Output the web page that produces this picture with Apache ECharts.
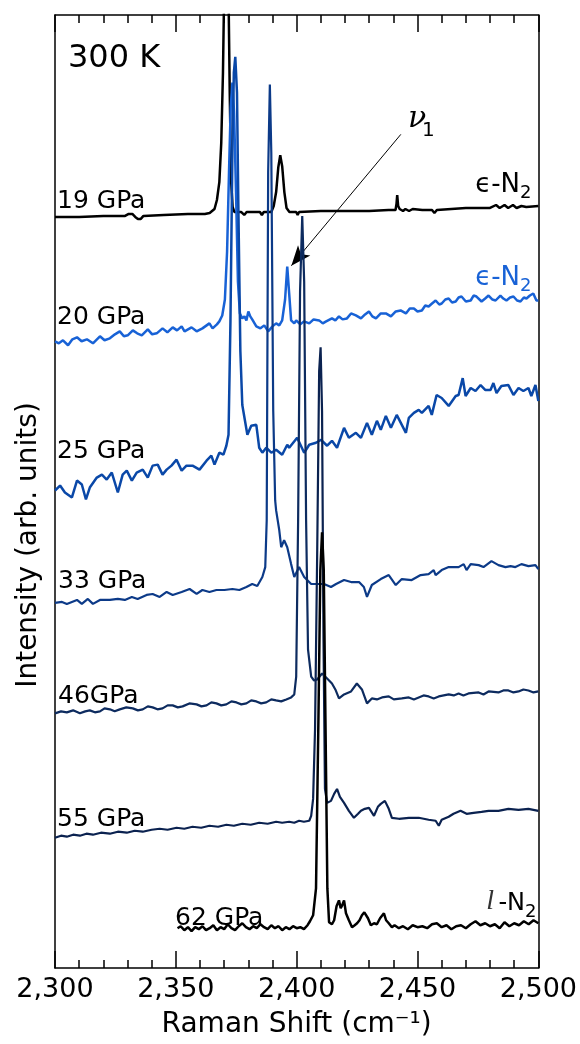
<!DOCTYPE html>
<html>
<head>
<meta charset="utf-8">
<script src="https://cdn.jsdelivr.net/npm/echarts@6/dist/echarts.min.js"></script>
<style>
  html, body { margin: 0; padding: 0; background: #fff; }
  #chart { width: 580px; height: 1044px; }
</style>
</head>
<body>
<div id="chart"></div>
<script>
// Raman spectra, stacked with offsets (x = cm-1, y = arb. offset intensity)
const p19 = [[2300,755],[2310,755],[2320,756],[2329,756],[2330.5,758],[2332,758],[2333.2,755],[2334.3,753],[2335.5,753],[2336.6,756],[2345,757],[2355,758],[2362,758],[2364,759],[2366,763],[2367,772],[2368,790],[2368.8,830],[2369.5,900],[2370.1,1000],[2370.9,1150],[2371.7,1000],[2372.3,880],[2372.9,790],[2373.5,765],[2374.2,760],[2377,760],[2378.3,757],[2379.3,760],[2384.8,760],[2385.6,757],[2386.4,760],[2389.5,760],[2390.5,766],[2391.5,780],[2392.4,805],[2393.2,817],[2394,806],[2394.9,780],[2395.8,764],[2397,760],[2399.8,760],[2400.4,757],[2401,760],[2410,761],[2420,761],[2430,761],[2438,762],[2440.9,762],[2441.3,768],[2441.6,777],[2442,766],[2442.6,763],[2443.4,763],[2444,761],[2445,763],[2446.5,761],[2448,763],[2452,762],[2456,762],[2457,759],[2458,762],[2470,764],[2480,764],[2482.5,767],[2484,764],[2486,767],[2487.5,764],[2489.5,767],[2491,764],[2493,766],[2495,765],[2500,766]];

const p20 = [[2300,630],[2301.6,628],[2303.3,631],[2305.4,626],[2307.2,632],[2309.1,634],[2311,630],[2313.2,632],[2315.7,628],[2318.6,635],[2320.5,631],[2322.7,633],[2324.8,637],[2326.8,640],[2328.5,635],[2330.1,636],[2332.2,641],[2334,638],[2335.9,636],[2338.4,642],[2340.2,637],[2342.1,638],[2344.5,643],[2346.5,639],[2348.7,644],[2350.5,641],[2352.4,645],[2353.6,640],[2356.5,644],[2358.6,640],[2361,643],[2363.9,648],[2365.2,643],[2367,647],[2368,650],[2369.2,656],[2370.3,672],[2371.2,720],[2372,800],[2372.7,865],[2373.4,890],[2374.1,860],[2374.9,780],[2375.7,690],[2376.5,658],[2377.5,653],[2378.4,655],[2379.2,651],[2380,660],[2380.8,655],[2381.6,652],[2383.3,645],[2385,643],[2386.6,646],[2388.2,640],[2390,645],[2391.5,648],[2392.8,646],[2394,651],[2395.2,672],[2396.1,705],[2396.9,678],[2397.7,651],[2399,648],[2399.8,651],[2401.5,647],[2403,650],[2405.2,648],[2407,652],[2409.3,651],[2410.8,648],[2412.2,650],[2414.6,653],[2416,651],[2417.5,655],[2419,652],[2420.8,653],[2422.5,658],[2424.5,656],[2426.6,653],[2428.3,657],[2429.9,660],[2431.3,655],[2432.8,653],[2434.8,658],[2436.9,658],[2439,655],[2441,660],[2443,661],[2445.2,658],[2446.8,663],[2448.5,663],[2450,660],[2451.8,661],[2453.2,666],[2454.6,665],[2456,668],[2457.5,671],[2459,667],[2460,668],[2461.5,672],[2462.9,673],[2464.3,669],[2465.8,670],[2467,674],[2468.2,675],[2470,670],[2472,671],[2473.2,676],[2474.4,675],[2476.5,670],[2478,673],[2479.4,676],[2481,672],[2482.3,671],[2484.3,676],[2485.5,673],[2486.8,671],[2488.3,674],[2489.7,675],[2491.2,671],[2492.6,670],[2494,674],[2495.1,673],[2496.5,676],[2497.9,678],[2499.2,671],[2500,671]];

const p25 = [[2300,480],[2302.1,485],[2304.1,478],[2307,473],[2309.1,490],[2311.1,486],[2312.8,471],[2314.4,483],[2317.3,493],[2319.4,496],[2321.4,491],[2323.5,498],[2326,478],[2328,496],[2329.7,500],[2331.8,490],[2333.8,498],[2336.3,501],[2338.4,493],[2340.4,505],[2342.5,506],[2344.5,496],[2346.2,501],[2348.2,505],[2350.3,511],[2352.4,500],[2354.4,505],[2356.9,505],[2359.8,501],[2362.7,510],[2364.7,515],[2366,506],[2368,518],[2369.7,516],[2370.9,525],[2371.8,536],[2372.6,650],[2373.4,820],[2374,900],[2374.6,916],[2375.3,880],[2375.9,760],[2376.7,620],[2377.5,566],[2379.6,536],[2381.2,545],[2383.3,546],[2384.5,523],[2385.8,518],[2387.4,523],[2389.5,518],[2391.5,521],[2394,516],[2396.1,526],[2396.9,523],[2400.2,533],[2403.1,518],[2405.2,526],[2408,528],[2410.1,531],[2412.6,525],[2414.6,530],[2416.7,523],[2419.6,543],[2421.6,533],[2424.5,538],[2426.6,533],[2429.1,548],[2431.1,536],[2433.2,550],[2434.8,541],[2436.9,555],[2439,543],[2441.4,556],[2445.2,538],[2446.4,553],[2448.5,558],[2450.5,561],[2451.8,558],[2454.6,565],[2455.9,556],[2457.9,576],[2460,573],[2462.9,565],[2465.8,575],[2467,576],[2468.7,593],[2469.9,575],[2472,583],[2474,580],[2476.1,586],[2478.1,581],[2480.2,581],[2481.4,588],[2482.7,578],[2484.7,585],[2487.6,586],[2489.7,576],[2491.8,583],[2493.8,580],[2495.9,583],[2497.1,575],[2498.8,586],[2500,570]];

const p33 = [[2300,367],[2302.9,368],[2304.9,366],[2307,368],[2309.1,370],[2311.1,366],[2313.6,371],[2315.7,366],[2318.6,370],[2322.7,370],[2326,371],[2328.9,370],[2331.8,373],[2334.2,371],[2337.9,375],[2340.4,376],[2343.3,373],[2346.2,378],[2348.7,375],[2352.4,378],[2355.7,381],[2358.6,376],[2361,380],[2363.9,378],[2366.8,380],[2370.1,380],[2373.4,381],[2376.3,380],[2379.2,383],[2381.6,386],[2383.7,384],[2385.8,393],[2387,403],[2387.6,450],[2388.2,800],[2388.9,888],[2389.5,820],[2390.3,560],[2391.1,470],[2391.5,460],[2392.8,440],[2393.6,423],[2394.8,430],[2396.1,423],[2397.7,406],[2399,393],[2401,403],[2403.1,393],[2406,386],[2408.5,386],[2411.3,386],[2414.2,383],[2416.3,386],[2419.6,390],[2422.5,388],[2425.8,388],[2427.8,383],[2429.1,373],[2431.1,385],[2434.8,391],[2438.1,395],[2441,385],[2443.5,391],[2447.6,390],[2451.3,395],[2454.6,396],[2456.7,400],[2457.5,395],[2460,400],[2462.9,403],[2467,403],[2469.1,406],[2470.3,400],[2472,406],[2475.3,405],[2477.3,403],[2480.6,409],[2483.5,405],[2486.4,403],[2488.5,404],[2490.5,403],[2493,406],[2495.9,404],[2498.8,405],[2500,401]];

const p46 = [[2300,256],[2302.5,258],[2304.9,257],[2307.5,259],[2310.3,256],[2312.5,258],[2314.4,259],[2316.5,257],[2318.6,258],[2320.5,261],[2322.7,260],[2324.7,258],[2326.8,260],[2329.5,262],[2332.2,261],[2334.3,259],[2336.3,260],[2338.4,263],[2340.4,262],[2342.4,260],[2344.5,261],[2346.6,264],[2348.7,264],[2350.8,262],[2352.8,263],[2355.6,266],[2358.6,265],[2360.6,263],[2362.7,264],[2364.7,267],[2366.8,266],[2368.8,264],[2370.9,265],[2373,268],[2375.1,267],[2377.1,265],[2379.2,266],[2381.2,269],[2383.3,268],[2385.3,266],[2387.4,267],[2389.5,270],[2391.5,269],[2393.6,268],[2395.7,270],[2397.7,272],[2399,275],[2399.8,293],[2400.6,450],[2401.4,680],[2402.3,756],[2403.1,690],[2403.9,450],[2404.7,320],[2406,293],[2407.2,289],[2408.5,290],[2410.5,296],[2412.6,291],[2414.6,286],[2416,280],[2417.5,271],[2419.6,275],[2422.5,278],[2424.9,286],[2427,280],[2429.1,266],[2431.1,271],[2433.2,270],[2435.3,272],[2438.1,273],[2440.2,270],[2443.5,271],[2446.4,272],[2448.5,270],[2450.5,272],[2452.5,274],[2454.6,273],[2456.7,271],[2458.8,273],[2462.9,275],[2465,274],[2467,276],[2469,274],[2471.1,276],[2475.3,277],[2477.3,275],[2479.4,278],[2483.5,277],[2485.5,279],[2487.6,279],[2489.7,277],[2491.8,278],[2493.8,280],[2495.9,279],[2498,277],[2500,278]];

const p55 = [[2300,131],[2302.5,133],[2304.9,132],[2307.5,134],[2310.3,133],[2313,135],[2315.7,134],[2319,136],[2322.7,135],[2326,137],[2329.7,136],[2333,138],[2336.3,137],[2340,139],[2343.3,140],[2346.6,139],[2350.3,141],[2353.5,140],[2356.9,142],[2360.5,141],[2363.9,143],[2367.5,142],[2370.9,144],[2374,143],[2377.5,145],[2381,144],[2384.5,146],[2388,145],[2391.5,147],[2394,146],[2396.9,147],[2399,146],[2401,148],[2403,147],[2405.2,148],[2406,153],[2406.8,170],[2407.6,240],[2408.5,420],[2409.3,600],[2409.9,624],[2410.5,560],[2411.1,330],[2411.7,180],[2412.6,166],[2414.2,168],[2415.5,175],[2416.7,180],[2417.9,172],[2419.6,166],[2421.6,158],[2423.7,151],[2425.4,155],[2426.6,158],[2428.2,160],[2429.9,161],[2432,153],[2433.6,162],[2434.8,165],[2436.5,168],[2438.1,160],[2439.4,151],[2442.3,150],[2446.4,151],[2450.5,151],[2454.6,149],[2457.5,148],[2458.8,143],[2460,149],[2462.9,152],[2464.9,155],[2467.8,158],[2470.3,155],[2473.2,156],[2476.5,157],[2479.4,158],[2483.5,158],[2487.6,160],[2491.8,159],[2495.9,160],[2500,158]];

const p62 = [[2350.7,40],[2352,42],[2353.5,38],[2355,41],[2356.5,37],[2358,41],[2359.5,39],[2361,42],[2362.5,38],[2364,40],[2365.5,43],[2367,38],[2368.5,41],[2370,39],[2371.5,44],[2373,40],[2374.5,38],[2376,42],[2377.5,45],[2379,41],[2380.5,39],[2382,42],[2383.5,40],[2385,44],[2386.5,41],[2388,39],[2389.5,43],[2391,40],[2392.5,42],[2394,38],[2395.5,41],[2397,39],[2398.5,42],[2400,40],[2401.5,41],[2403,39],[2404.5,43],[2405.5,47],[2406.8,53],[2408,80],[2409,250],[2409.8,400],[2410.5,438],[2411.2,400],[2411.9,250],[2412.7,80],[2413.4,46],[2414.6,44],[2415.5,48],[2416.5,62],[2417.5,68],[2418.2,60],[2418.8,63],[2419.6,68],[2420.4,55],[2421.6,48],[2422.9,41],[2424,43],[2425,45],[2426,48],[2427,53],[2428,56],[2428.7,58],[2429.5,50],[2430.7,43],[2432,45],[2433.2,44],[2434.5,50],[2436.1,55],[2437,48],[2438.1,45],[2439.4,41],[2440.5,43],[2442.3,40],[2444,42],[2446,39],[2448,43],[2450,41],[2452,42],[2454,40],[2456,44],[2458,45],[2460,41],[2462,43],[2464,39],[2466,42],[2468,43],[2470,40],[2472,44],[2474,47],[2476,43],[2478,45],[2480,42],[2482,44],[2484,40],[2486,46],[2488,42],[2490,45],[2492,43],[2494,47],[2496,44],[2498,48],[2500,45]];

const pressureLabels = ['19 GPa', '20 GPa', '25 GPa', '33 GPa', '46GPa', '55 GPa', '62 GPa'];
const arrowFrom = [2443.1, 838];
const arrowTo = [2397.8, 706];

const spectra = [p19, p20, p25, p33, p46, p55, p62];
const colors = ['#000000', '#1862d6', '#0a48a8', '#0c3a88', '#0d2b5f', '#0b2250', '#000000'];
const widths = [2.5, 2.5, 2.5, 2.2, 2.2, 2.2, 2.5];
// label anchors in px (left, middle)
const labelPos = [[57, 201], [57, 317], [57, 451], [58, 581], [58, 696], [57, 819], [175, 918]];

const FONT = '"DejaVu Sans", Verdana, sans-serif';
const chart = echarts.init(document.getElementById('chart'));

const txt = (x, y, text, size, opts = {}) => ({
  type: 'text', x, y, rotation: opts.rotation || 0, silent: true,
  style: {
    text, fill: opts.color || '#000',
    font: `${opts.style || 'normal'} ${size}px ${opts.family || FONT}`,
    align: opts.align || 'left', verticalAlign: 'middle'
  }
});

const graphic = [
  txt(68, 59, '300 K', 32),
  ...pressureLabels.map((t, i) => txt(labelPos[i][0], labelPos[i][1], t, 25)),
  // phase labels
  txt(520, 185, '\u03F5-N', 26, { align: 'right' }),
  txt(520, 193, '2', 18),
  txt(520, 278, '\u03F5-N', 26, { align: 'right', color: colors[1] }),
  txt(520, 286, '2', 18, { color: colors[1] }),
  txt(525, 904, '-N', 24, { align: 'right' }),
  txt(494, 902, 'l', 28, { align: 'right', style: 'italic', family: '"Liberation Serif", serif', color: '#333' }),
  txt(525, 912, '2', 18),
  // nu_1
  txt(408, 119, '\u03BD', 30, { style: 'italic', family: '"DejaVu Serif", serif' }),
  txt(422, 131, '1', 20),
  // y axis title
  txt(29, 545, 'Intensity (arb. units)', 28, { align: 'center', rotation: Math.PI / 2 })
];

const tickStyle = { color: '#000', width: 1.5 };
const xAxisBase = {
  type: 'value', min: 2300, max: 2500, interval: 50,
  splitLine: { show: false },
  axisLine: { show: true, onZero: false, lineStyle: { color: '#000', width: 1.5 } },
  axisTick: { show: true, inside: true, length: 17, lineStyle: tickStyle },
  minorTick: { show: true, splitNumber: 5, length: 8, lineStyle: tickStyle },
  minorSplitLine: { show: false }
};

chart.setOption({
  animation: false,
  backgroundColor: '#fff',
  grid: { left: 55, right: 40, top: 15, bottom: 71 },
  xAxis: [
    Object.assign({}, xAxisBase, {
      position: 'bottom',
      axisLabel: {
        color: '#000', fontSize: 27, fontFamily: FONT, margin: 8,
        formatter: v => v.toLocaleString('en-US')
      },
      name: 'Raman Shift (cm\u207B\u00B9)', nameLocation: 'middle', nameGap: 43,
      nameTextStyle: { color: '#000', fontSize: 28, fontFamily: FONT }
    }),
    Object.assign({}, xAxisBase, { position: 'top', axisLabel: { show: false } })
  ],
  yAxis: [
    { type: 'value', min: 0, max: 958, position: 'left', splitLine: { show: false },
      axisLine: { show: true, lineStyle: { color: '#000', width: 1.5 } },
      axisTick: { show: false }, axisLabel: { show: false } },
    { type: 'value', min: 0, max: 958, position: 'right', splitLine: { show: false },
      axisLine: { show: true, lineStyle: { color: '#000', width: 1.5 } },
      axisTick: { show: false }, axisLabel: { show: false } }
  ],
  graphic,
  series: spectra.map((d, i) => {
    const s = {
      type: 'line', data: d, xAxisIndex: 0, yAxisIndex: 0,
      showSymbol: false, symbol: 'none', clip: true,
      lineStyle: { color: colors[i], width: widths[i] },
      z: 2 + i
    };
    if (i === 1) {
      s.markLine = {
        silent: true, animation: false,
        symbol: ['none', 'arrow'], symbolSize: [12, 20],
        lineStyle: { color: '#000', width: 1, type: 'solid' },
        label: { show: false },
        data: [[{ coord: arrowFrom }, { coord: arrowTo }]]
      };
    }
    return s;
  })
});
</script>
</body>
</html>
